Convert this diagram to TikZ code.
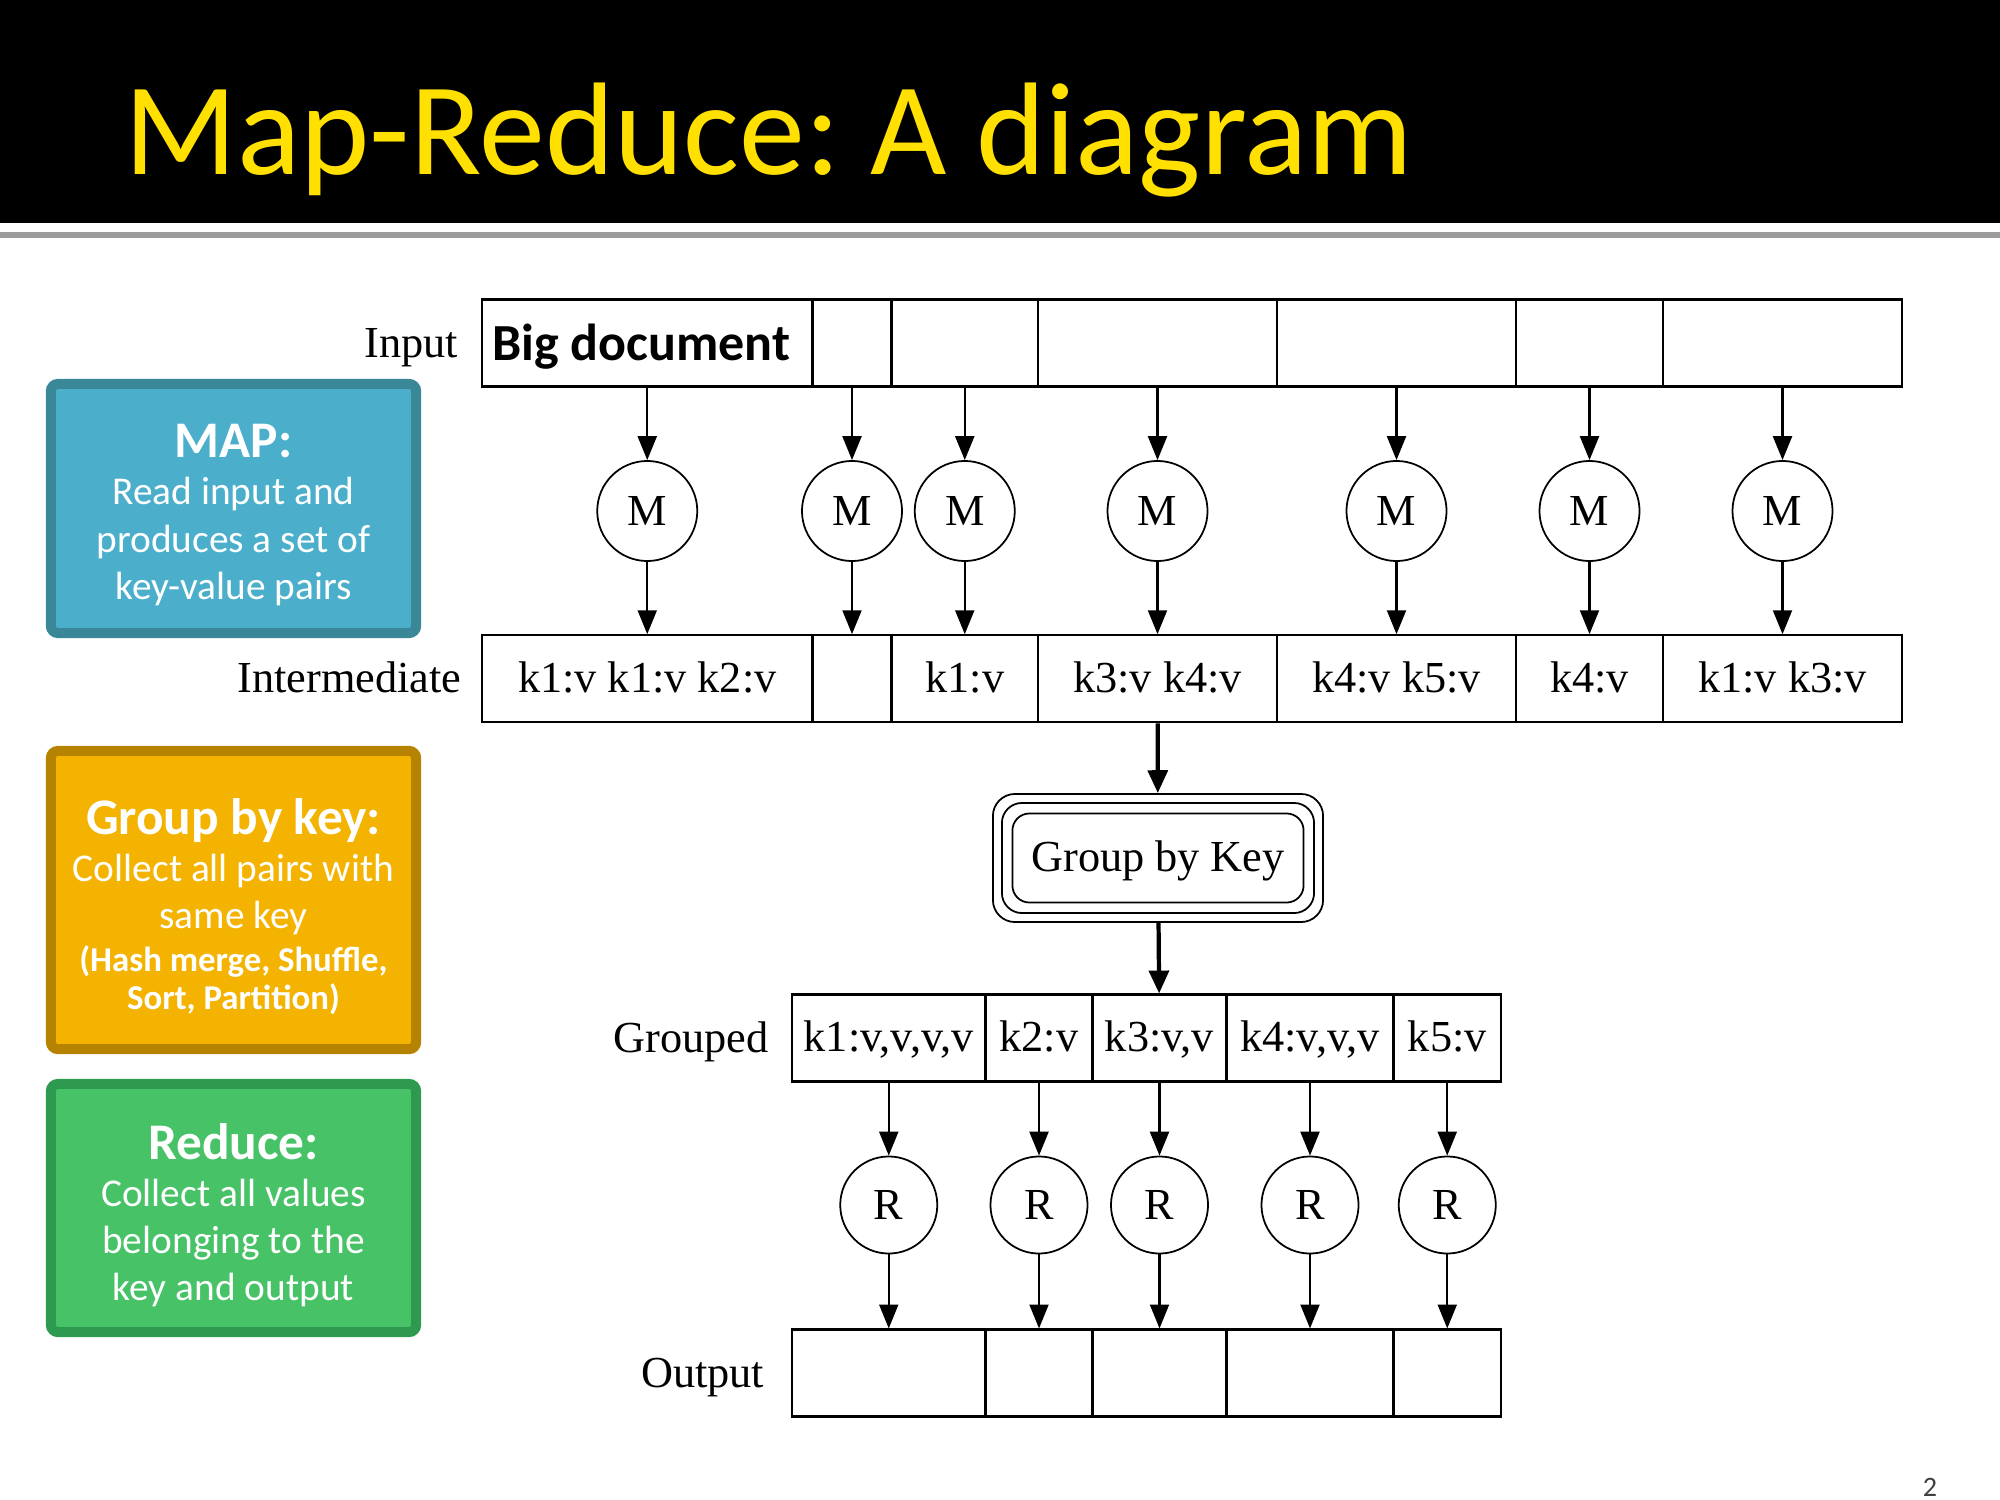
\documentclass[tikz,border=0pt]{standalone}
\usepackage{fontspec}
\setmainfont{Liberation Serif}
\newfontfamily\slidefont{Carlito}
\usetikzlibrary{arrows.meta,positioning}
\frenchspacing
\definecolor{titleyellow}{HTML}{FFE000}
\definecolor{rulegray}{HTML}{9C9C9C}
\definecolor{mapfill}{HTML}{4BAFCC}
\definecolor{mapedge}{HTML}{3A8797}
\definecolor{groupfill}{HTML}{F3B300}
\definecolor{groupedge}{HTML}{B58300}
\definecolor{reducefill}{HTML}{47C267}
\definecolor{reduceedge}{HTML}{2E9A4F}
\definecolor{pagegray}{HTML}{404040}
\newcommand{\docfont}{\slidefont\bfseries\fontsize{14.8}{15}\selectfont}
\newcommand{\headfont}{\bfseries\fontsize{14.6}{13.4}\selectfont}
\newcommand{\notefont}{\bfseries\fontsize{9.9}{13.4}\selectfont}

\begin{document}
\begin{tikzpicture}[x=0.01cm,y=-0.01cm,
  cell/.style={draw,line width=0.6pt,minimum width=#1,minimum height=0.87cm,inner sep=0pt,text height=0.82em,text depth=0.05em,font=\fontsize{12.6}{15}\selectfont},
  worker/.style={circle,draw,line width=0.5pt,minimum size=#1,inner sep=0pt,font=\fontsize{12.6}{15}\selectfont},
  rowlabel/.style={anchor=base east,inner sep=0pt,font=\fontsize{12.6}{15}\selectfont},
  flow/.style={-{Triangle[length=6.8pt,width=5.4pt]},line width=0.6pt},
  bigflow/.style={-{Triangle[length=6.5pt,width=5.6pt]},line width=1.2pt},
  frame/.style={draw,line width=0.5pt,inner sep=0pt},
  infobox/.style={draw=#1edge,fill=#1fill,line width=0.1cm,rounded corners=2pt,minimum width=3.65cm},
  infotext/.style={text=white,align=center,inner sep=0pt,font=\slidefont\fontsize{11.2}{13.4}\selectfont}]
  \useasboundingbox (0,0) rectangle (2000,1500);
  % title bar
  \fill[black] (0,0) rectangle (2000,223);
  \fill[rulegray] (0,232) rectangle (2000,238);
  \node (title) [anchor=base west,inner sep=0pt,text=titleyellow,font=\slidefont\fontsize{37.5}{37.5}\selectfont] at (124,175) {Map-Reduce: A diagram};
  \node (pagenum) [text=pagegray,font=\slidefont\fontsize{8}{8}\selectfont] at (1930,1487) {2};

  % left explanations
  \node (mapbox) [infobox=map,minimum height=2.49cm] at (233.5,508.5) {};
  \node (maptext) [infotext] at (233.5,515) {{\headfont MAP:}\\Read input and\\produces a set of\\key-value pairs};
  \node (groupbox) [infobox=group,minimum height=2.98cm] at (233.5,900) {};
  \node (grouptext) [infotext] at (233.5,906.5) {{\headfont Group by key:}\\Collect all pairs with\\same key\\[-1.3pt]{\notefont (Hash merge, Shuffle,}\\[-2.6pt]{\notefont Sort, Partition)}};
  \node (reducebox) [infobox=reduce,minimum height=2.48cm] at (233.5,1208) {};
  \node (reducetext) [infotext] at (233.5,1215) {{\headfont Reduce:}\\Collect all values\\belonging to the\\key and output};

  % row labels
  \node (inlabel) [rowlabel] at (459,357) {Input};
  \node (imlabel) [rowlabel] at (462,692) {Intermediate};
  \node (grlabel) [rowlabel] at (769,1052) {Grouped};
  \node (outlabel) [rowlabel] at (765,1387) {Output};

  % map phase
  \foreach \x/\w/\t [count=\i] in {647.25/3.305/{\docfont\hspace*{-0.12cm}\raisebox{-1.2pt}{Big document}},852/0.79/{},964.75/1.465/{},1157.5/2.39/{},1396.5/2.39/{},1589.5/1.47/{},1782.5/2.39/{}}
    \node (in\i) [cell=\w cm] at (\x,343) {\t};
  \foreach \x/\w/\t [count=\i] in {647.25/3.305/{k1:v k1:v k2:v},852/0.79/{},964.75/1.465/{k1:v},1157.5/2.39/{k3:v k4:v},1396.5/2.39/{k4:v k5:v},1589.5/1.47/{k4:v},1782.5/2.39/{k1:v k3:v}}{
    \node (im\i) [cell=\w cm] at (\x,678.75) {\t};
    \node (m\i) [worker=1cm] at (\x,511) {M};
    \draw[flow] (in\i) -- (m\i);
    \draw[flow] (m\i) -- (im\i);
  }

  % shuffle
  \node (gbk) [frame,rounded corners=0.17cm,minimum width=2.91cm,minimum height=0.89cm,text height=0.82em,text depth=0.05em,font=\fontsize{12.6}{15}\selectfont] at (1158,858) {Group by Key};
  \node (gbkmid) [frame,rounded corners=0.2cm,minimum width=3.12cm,minimum height=1.1cm] at (gbk) {};
  \node (gbkout) [frame,rounded corners=0.22cm,minimum width=3.3cm,minimum height=1.28cm] at (gbk) {};

  % reduce phase
  \foreach \x/\w/\t [count=\i] in {888.75/1.935/{k1:v,v,v,v},1039/1.07/{k2:v},1159.5/1.34/{k3:v,v},1310/1.67/{k4:v,v,v},1447.25/1.075/{k5:v}}{
    \node (gr\i) [cell=\w cm] at (\x,1038) {\t};
    \node (out\i) [cell=\w cm] at (\x,1373) {};
    \node (r\i) [worker=0.97cm] at (\x,1205) {R};
    \draw[flow] (gr\i) -- (r\i);
    \draw[flow] (r\i) -- (out\i);
  }
  \draw[bigflow] (im4) -- (gbkout);
  \draw[bigflow] (gbkout) -- (gr3);
\end{tikzpicture}
\end{document}
